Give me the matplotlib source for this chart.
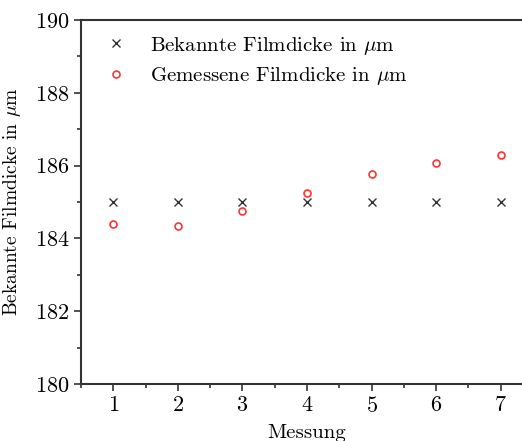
import matplotlib
matplotlib.use("Agg")
import matplotlib.pyplot as plt
from matplotlib.ticker import MultipleLocator

plt.rcParams["font.family"] = ["cmr10", "DejaVu Serif"]
plt.rcParams["mathtext.fontset"] = "cm"
plt.rcParams["axes.formatter.use_mathtext"] = True

messung = [1, 2, 3, 4, 5, 6, 7]
bekannt = [185, 185, 185, 185, 185, 185, 185]
gemessen = [184.40, 184.34, 184.75, 185.25, 185.78, 186.08, 186.30]

fig = plt.figure(figsize=(5.22, 4.41), dpi=100)
ax = fig.add_axes([81 / 522, 1 - 384 / 441, (533 - 81) / 522, (384 - 20) / 441])

ax.plot(messung, bekannt, linestyle="none", marker="x", color="#333333",
        markersize=6, markeredgewidth=1.0,
        label=r"Bekannte Filmdicke in $\mu$m")
ax.plot(messung, gemessen, linestyle="none", marker="o", color="#ff3333",
        markerfacecolor="none", markersize=5, markeredgewidth=1.2,
        label=r"Gemessene Filmdicke in $\mu$m")

ax.set_xlim(0.5, 7.5)
ax.set_ylim(180, 190)
ax.xaxis.set_major_locator(MultipleLocator(1))
ax.xaxis.set_minor_locator(MultipleLocator(0.5))
ax.yaxis.set_major_locator(MultipleLocator(2))
ax.yaxis.set_minor_locator(MultipleLocator(1))
ax.tick_params(which="both", direction="out", top=False, right=False,
               labelsize=16, color="#333333", width=1.2)
ax.tick_params(which="major", length=5)
ax.tick_params(which="minor", length=3)
for s in ax.spines.values():
    s.set_linewidth(1.5)
    s.set_color("#333333")

ax.set_xlabel("Messung", fontsize=15, labelpad=6)
ax.set_ylabel(r"Bekannte Filmdicke in $\mu$m", fontsize=14, labelpad=8)
ax.legend(loc="upper left", frameon=False, fontsize=15, handletextpad=0.6,
          borderaxespad=0.3, labelspacing=0.4)

fig.savefig("out.png", dpi=100)
